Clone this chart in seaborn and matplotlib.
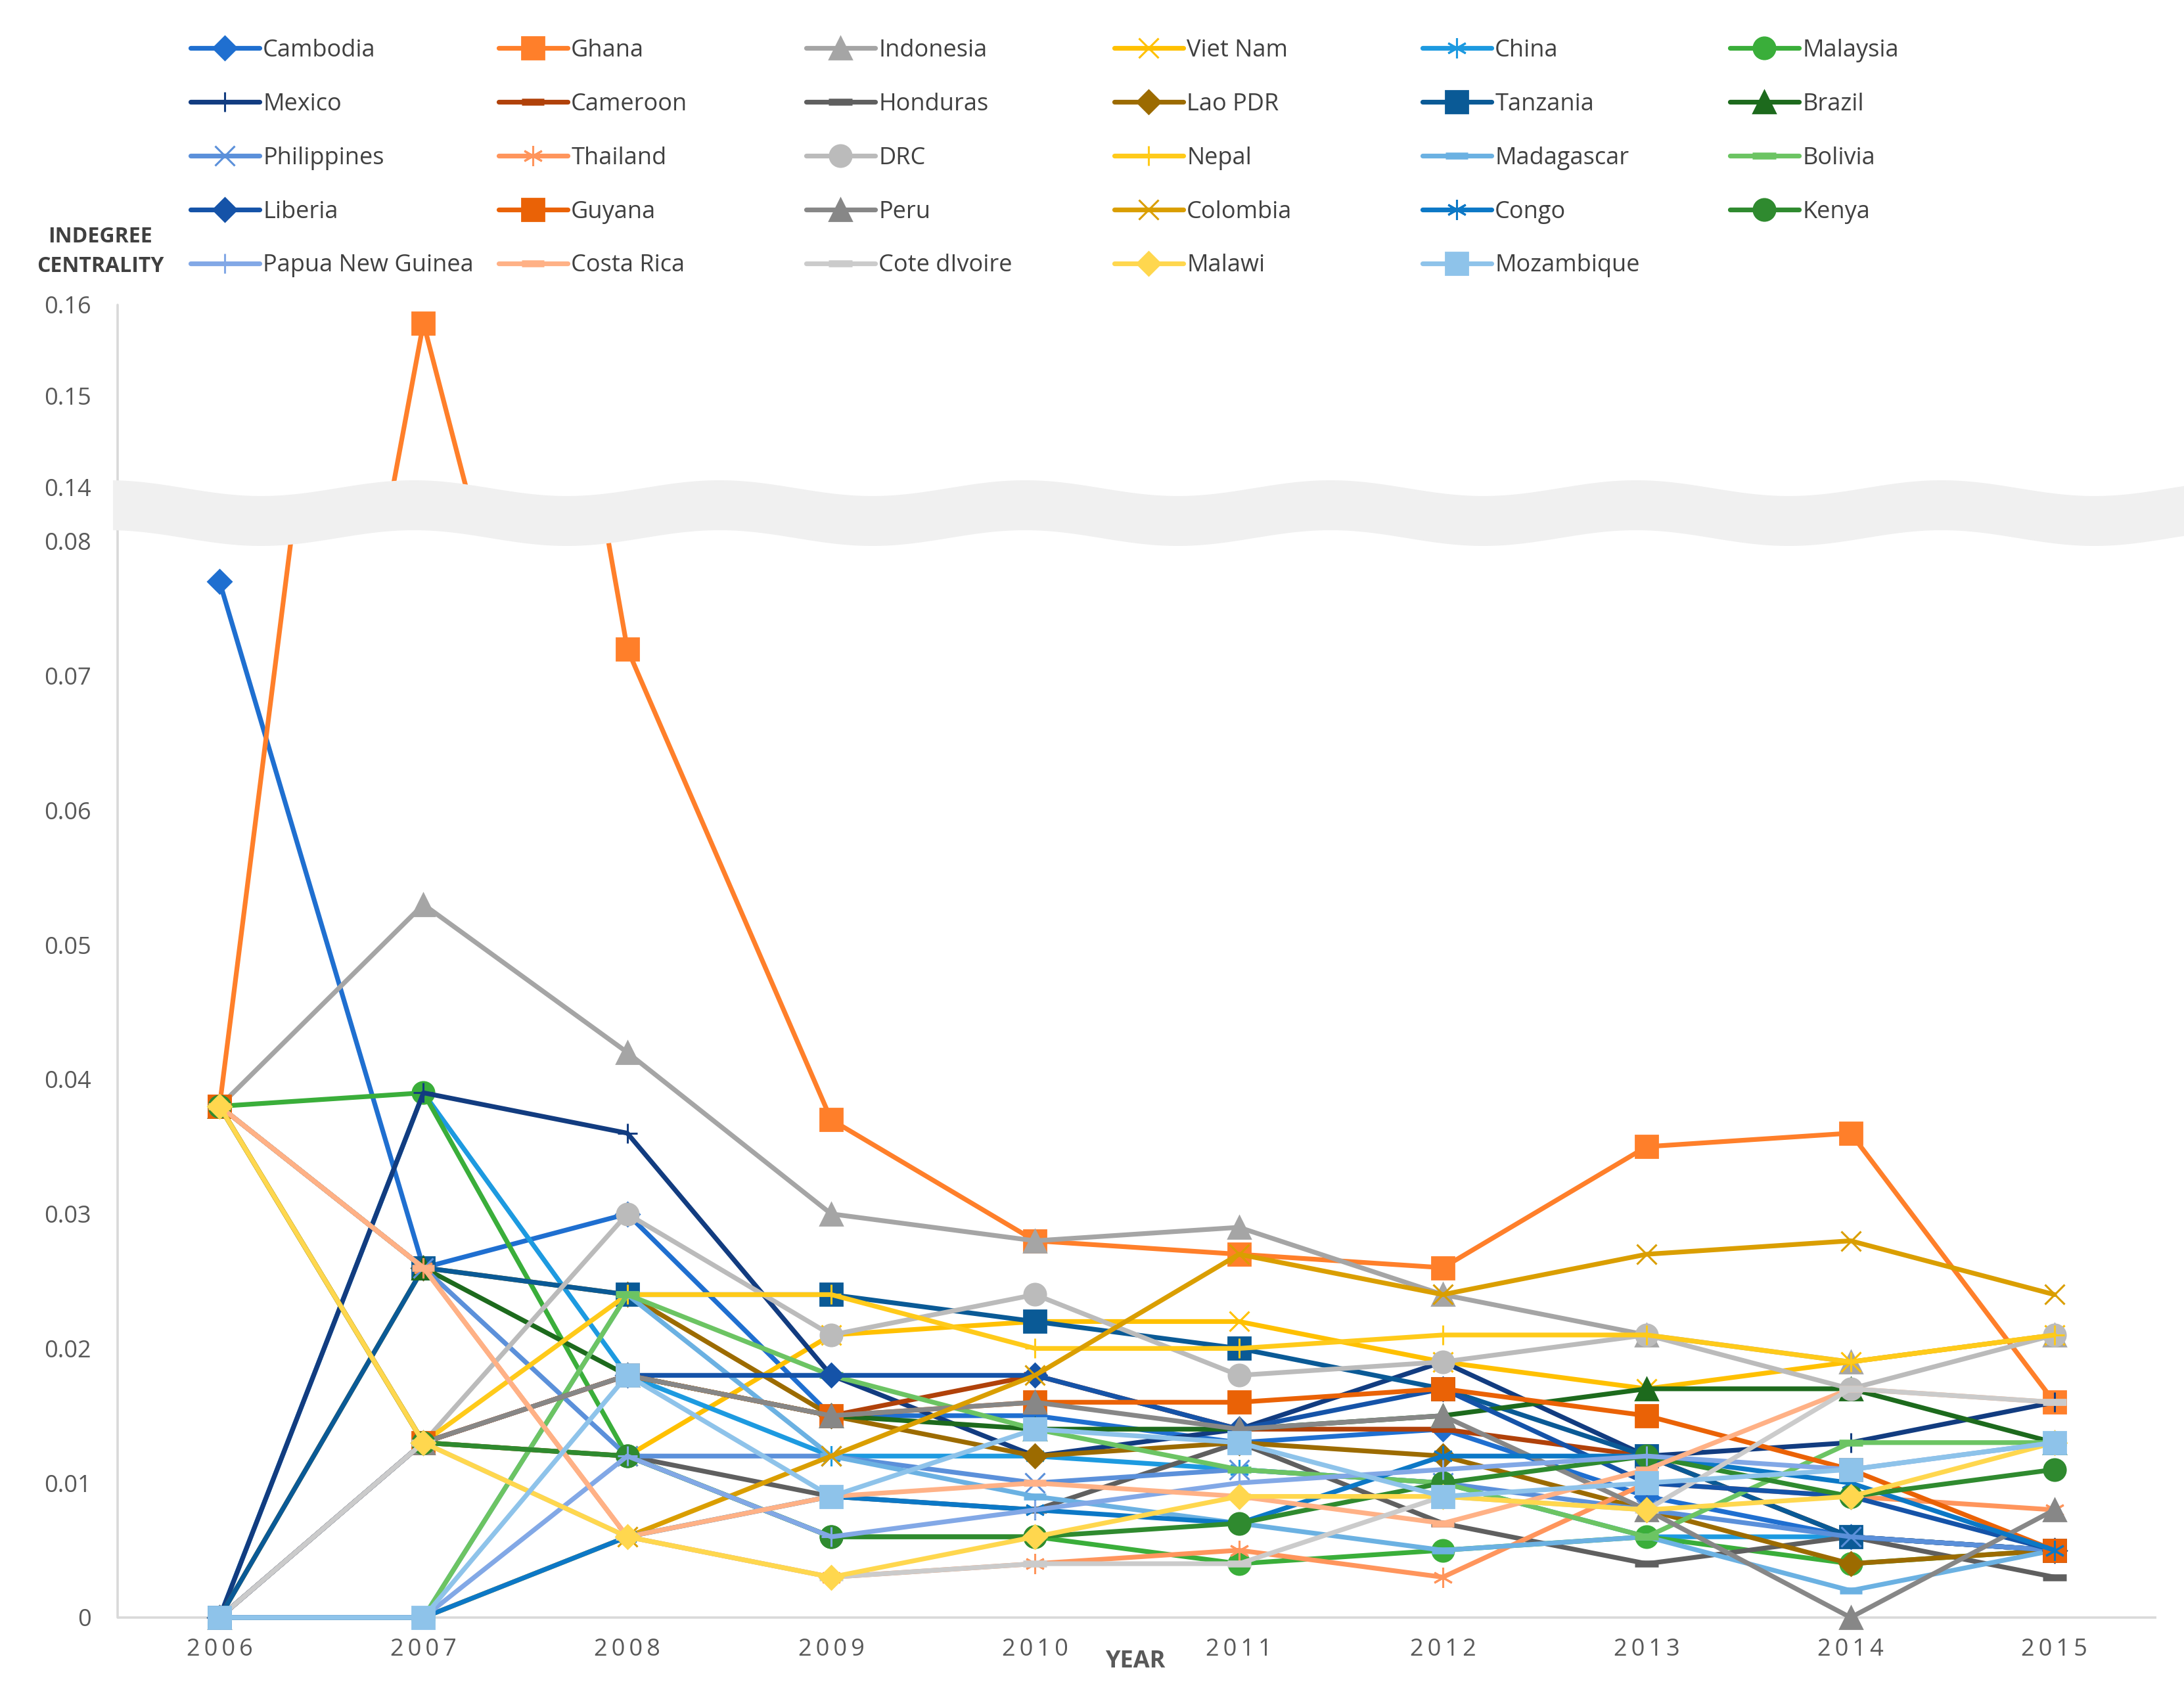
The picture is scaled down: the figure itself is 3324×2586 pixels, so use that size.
import numpy as np
import pandas as pd
import matplotlib
matplotlib.use("Agg")
import matplotlib.pyplot as plt
import seaborn as sns
from matplotlib.patches import Polygon

# ---------------- data ----------------
years = [2006, 2007, 2008, 2009, 2010, 2011, 2012, 2013, 2014, 2015]

countries = ["Cambodia", "Ghana", "Indonesia", "Viet Nam", "China", "Malaysia",
             "Mexico", "Cameroon", "Honduras", "Lao PDR", "Tanzania", "Brazil",
             "Philippines", "Thailand", "DRC", "Nepal", "Madagascar", "Bolivia",
             "Liberia", "Guyana", "Peru", "Colombia", "Congo", "Kenya",
             "Papua New Guinea", "Costa Rica", "Cote dIvoire", "Malawi", "Mozambique"]

cambodia    = [0.077, 0.026, 0.030, 0.015, 0.015, 0.013, 0.014, 0.009, 0.006, 0.005]
ghana       = [0.038, 0.158, 0.072, 0.037, 0.028, 0.027, 0.026, 0.035, 0.036, 0.016]
indonesia   = [0.038, 0.053, 0.042, 0.030, 0.028, 0.029, 0.024, 0.021, 0.019, 0.021]
viet_nam    = [0.038, 0.013, 0.012, 0.021, 0.022, 0.022, 0.019, 0.017, 0.019, 0.021]
china       = [0.000, 0.039, 0.018, 0.012, 0.012, 0.011, 0.010, 0.006, 0.006, 0.005]
malaysia    = [0.038, 0.039, 0.012, 0.006, 0.006, 0.004, 0.005, 0.006, 0.004, 0.005]
mexico      = [0.000, 0.039, 0.036, 0.018, 0.012, 0.014, 0.019, 0.012, 0.013, 0.016]
cameroon    = [0.000, 0.013, 0.018, 0.015, 0.018, 0.014, 0.014, 0.012, 0.006, 0.005]
honduras    = [0.000, 0.013, 0.012, 0.009, 0.008, 0.013, 0.007, 0.004, 0.006, 0.003]
lao_pdr     = [0.000, 0.026, 0.024, 0.015, 0.012, 0.013, 0.012, 0.008, 0.004, 0.005]
tanzania    = [0.000, 0.026, 0.024, 0.024, 0.022, 0.020, 0.017, 0.012, 0.006, 0.005]
brazil      = [0.038, 0.026, 0.018, 0.015, 0.014, 0.014, 0.015, 0.017, 0.017, 0.013]
philippines = [0.038, 0.026, 0.012, 0.012, 0.010, 0.011, 0.010, 0.008, 0.006, 0.005]
thailand    = [0.038, 0.026, 0.006, 0.003, 0.004, 0.005, 0.003, 0.010, 0.009, 0.008]
drc         = [0.000, 0.013, 0.030, 0.021, 0.024, 0.018, 0.019, 0.021, 0.017, 0.021]
nepal       = [0.038, 0.013, 0.024, 0.024, 0.020, 0.020, 0.021, 0.021, 0.019, 0.021]
madagascar  = [0.000, 0.000, 0.024, 0.012, 0.009, 0.007, 0.005, 0.006, 0.002, 0.005]
bolivia     = [0.000, 0.000, 0.024, 0.018, 0.014, 0.011, 0.010, 0.006, 0.013, 0.013]
liberia     = [0.000, 0.013, 0.018, 0.018, 0.018, 0.014, 0.017, 0.010, 0.009, 0.005]
guyana      = [0.038, 0.013, 0.018, 0.015, 0.016, 0.016, 0.017, 0.015, 0.011, 0.005]
peru        = [0.000, 0.013, 0.018, 0.015, 0.016, 0.014, 0.015, 0.008, 0.000, 0.008]
colombia    = [0.000, 0.000, 0.006, 0.012, 0.018, 0.027, 0.024, 0.027, 0.028, 0.024]
congo       = [0.000, 0.000, 0.006, 0.009, 0.008, 0.007, 0.012, 0.012, 0.010, 0.005]
kenya       = [0.038, 0.013, 0.012, 0.006, 0.006, 0.007, 0.010, 0.012, 0.009, 0.011]
png         = [0.000, 0.000, 0.012, 0.006, 0.008, 0.010, 0.011, 0.012, 0.011, 0.013]
costa_rica  = [0.038, 0.026, 0.006, 0.009, 0.010, 0.009, 0.007, 0.011, 0.017, 0.016]
cote        = [0.000, 0.013, 0.006, 0.003, 0.004, 0.004, 0.009, 0.008, 0.017, 0.016]
malawi      = [0.038, 0.013, 0.006, 0.003, 0.006, 0.009, 0.009, 0.008, 0.009, 0.013]
mozambique  = [0.000, 0.000, 0.018, 0.009, 0.014, 0.013, 0.009, 0.010, 0.011, 0.013]

series = [cambodia, ghana, indonesia, viet_nam, china, malaysia,
          mexico, cameroon, honduras, lao_pdr, tanzania, brazil,
          philippines, thailand, drc, nepal, madagascar, bolivia,
          liberia, guyana, peru, colombia, congo, kenya,
          png, costa_rica, cote, malawi, mozambique]

bottom_ticks = [0, 0.01, 0.02, 0.03, 0.04, 0.05, 0.06, 0.07, 0.08]
bottom_labels = ["0", "0.01", "0.02", "0.03", "0.04", "0.05", "0.06", "0.07", "0.08"]
top_ticks = [0.14, 0.15, 0.16]
top_labels = ["0.14", "0.15", "0.16"]

# ---------------- styles ----------------
colors = ["#1F6FD0", "#FF7F2A", "#A5A5A5", "#FFC000", "#1D9AE0", "#3AAE3A",
          "#123C80", "#B0410A", "#5F5F5F", "#9C6B00", "#0A5A96", "#1D6A1D",
          "#5B90DA", "#FF955C", "#BBBBBB", "#FFCA1A", "#6BB1E2", "#6CC463",
          "#1553A8", "#EA6206", "#878787", "#DA9E00", "#0C78C6", "#2F8A2F",
          "#82A8E6", "#FFB186", "#CBCBCB", "#FFD74E", "#8EC3EA"]

ast = (6, 2, 0)
cycle = [("D", 9, 1.0), ("s", 12, 1.0), ("^", 12, 1.0), ("x", 11, 1.1),
         (ast, 11, 1.1), ("o", 12, 1.0), ("+", 11, 1.1), ("_", 12, 3.8),
         ("_", 13, 3.8)]
LW = 2.6

sns.set_theme(style="white")
plt.rcParams["font.family"] = ["Open Sans", "DejaVu Sans"]

W, H, DPI = 3324, 2586, 200
fig = plt.figure(figsize=(W / DPI, H / DPI), dpi=DPI)
fig.patch.set_facecolor("white")

# bottom (0 - 0.08) and top (0.14 - 0.16) panels of the broken axis
ax = fig.add_axes([179 / W, 1 - 2480.4 / H, 3103 / W, (2480.4 - 793) / H])
axt = fig.add_axes([179 / W, 1 - 783.7 / H, 3103 / W, (783.7 - 457) / H])

handles = []
for i, (name, vals, col) in enumerate(zip(countries, series, colors)):
    mk, ms, mew = cycle[i % 9]
    d = pd.DataFrame({"year": years, "value": vals})
    for a in (ax, axt):
        sns.lineplot(data=d, x="year", y="value", ax=a, color=col,
                     marker=mk, markersize=ms, markeredgewidth=mew,
                     markeredgecolor=col, markerfacecolor=col,
                     linewidth=LW, legend=False, label=name)
    handles.append(ax.lines[-1])

tick_color = "#595959"
grid_color = "#D9D9D9"
for a in (ax, axt):
    a.set_xlim(2005.5, 2015.5)
    a.set_xlabel("")
    a.set_ylabel("")
    for s in a.spines.values():
        s.set_visible(False)
    a.tick_params(axis="both", length=0, labelsize=13, colors=tick_color)
    a.tick_params(axis="y", pad=14.5)
    if a.get_legend() is not None:
        a.get_legend().remove()

ax.set_ylim(-0.0009, 0.0815)
axt.set_ylim(0.137, 0.1605)
ax.set_yticks(bottom_ticks)
ax.set_yticklabels(bottom_labels)
axt.set_yticks(top_ticks)
axt.set_yticklabels(top_labels)
axt.set_xticks([])
ax.set_xticks(years)
ax.set_xticklabels(["\u2009".join(str(y)) for y in years])
ax.tick_params(axis="x", pad=4.5)

ax.axhline(0, color=grid_color, lw=1.3, zorder=1)
ax.axvline(2005.5, ymin=0.0009 / 0.0824, ymax=1, color=grid_color, lw=1.3,
           clip_on=False, zorder=1)
axt.axvline(2005.5, ymin=0, ymax=(0.16 - 0.137) / (0.1605 - 0.137),
            color=grid_color, lw=1.3, clip_on=False, zorder=1)

# wavy break band
xs = np.linspace(172, W, 400)
top_edge = 743 - 12 * np.cos(2 * np.pi * (xs - 630) / 465)
bot_edge = top_edge + 76
pts = np.concatenate([np.column_stack([xs, top_edge]),
                      np.column_stack([xs[::-1], bot_edge[::-1]])])
pts_fig = np.column_stack([pts[:, 0] / W, 1 - pts[:, 1] / H])
fig.add_artist(Polygon(pts_fig, closed=True, transform=fig.transFigure,
                       facecolor="#F0F0F0", edgecolor="none", zorder=5))

# axis titles
fig.text(1728 / W, 1 - 2529 / H, "YEAR", ha="center", va="center",
         fontsize=13, fontweight="bold", color=tick_color)
fig.text(153 / W, 1 - 383 / H, "INDEGREE\nCENTRALITY", ha="center",
         va="center", fontsize=11.5, fontweight="bold", color="#404040",
         linespacing=1.45)

# legend: 6 columns, row-major order
col_x = [290, 759, 1227, 1696, 2165, 2633]
for j in range(6):
    hs = handles[j::6]
    ls = countries[j::6]
    fig.legend(hs, ls, loc="upper left",
               bbox_to_anchor=(col_x[j] / W, 1 - 59 / H),
               frameon=False, fontsize=13, handlelength=2.9,
               handletextpad=0.15, labelspacing=1.27, borderpad=0,
               borderaxespad=0, labelcolor="#404040", numpoints=1)

fig.savefig("out.png", dpi=DPI, facecolor="white")
